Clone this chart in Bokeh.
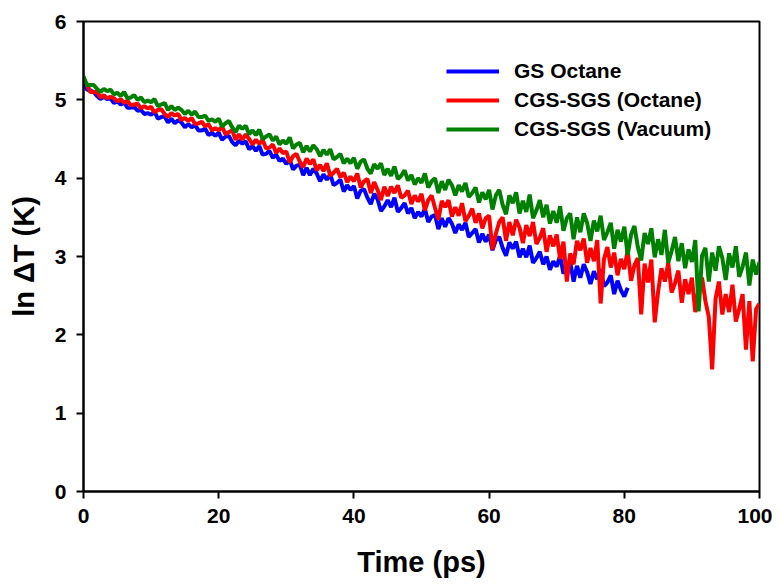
from bokeh.plotting import figure
from bokeh.models import Range1d, FixedTicker, Legend, LegendItem, ColumnDataSource
from bokeh.embed import file_html
from bokeh.resources import INLINE

STEP = 0.5  # ps between samples

green_vacuum = [
    5.30,5.19,5.19,5.19,5.14,5.10,5.14,5.11,5.13,5.07,5.09,5.05,5.10,5.02,5.03,5.06,5.00,5.03,4.97,4.99,
    4.97,5.01,4.92,4.94,4.96,4.87,4.92,4.87,4.90,4.87,4.82,4.86,4.81,4.85,4.78,4.78,4.80,4.73,4.75,4.72,
    4.76,4.66,4.70,4.73,4.65,4.59,4.67,4.63,4.67,4.56,4.61,4.55,4.62,4.50,4.53,4.56,4.48,4.53,4.43,4.48,
    4.44,4.52,4.38,4.43,4.45,4.33,4.41,4.34,4.42,4.37,4.28,4.36,4.30,4.37,4.24,4.27,4.31,4.19,4.25,4.19,
    4.26,4.12,4.21,4.24,4.12,4.06,4.18,4.12,4.19,4.04,4.12,4.03,4.15,3.99,4.03,4.10,3.97,4.04,3.92,4.00,
    3.94,4.06,3.88,3.96,4.00,3.81,3.96,3.85,3.98,3.91,3.78,3.91,3.83,3.94,3.76,3.81,3.88,3.69,3.82,3.73,
    3.85,3.60,3.78,3.85,3.66,3.54,3.78,3.68,3.82,3.55,3.71,3.57,3.79,3.49,3.59,3.72,3.50,3.66,3.42,3.58,
    3.43,3.64,3.33,3.49,3.55,3.22,3.50,3.31,3.55,3.43,3.20,3.46,3.32,3.52,3.21,3.31,3.43,3.10,3.34,3.19,
    3.38,3.02,3.28,3.39,3.12,2.95,3.30,3.16,3.36,2.99,3.22,3.02,3.34,2.92,3.07,3.25,2.94,3.17,2.85,3.09,
    2.93,3.21,2.30,3.01,3.11,2.68,3.05,2.82,3.13,2.98,2.70,3.04,2.86,3.13,2.74,2.87,3.05,2.63,2.96,2.77,2.93,
]

red_octane = [
    5.25,5.20,5.10,5.10,5.10,5.03,5.06,5.02,5.04,5.02,4.98,5.01,4.96,4.99,4.93,4.94,4.95,4.89,4.92,4.89,
    4.91,4.84,4.87,4.88,4.82,4.78,4.83,4.80,4.82,4.74,4.77,4.73,4.77,4.69,4.70,4.72,4.66,4.69,4.61,4.64,
    4.61,4.66,4.56,4.59,4.61,4.49,4.56,4.49,4.56,4.50,4.43,4.49,4.44,4.49,4.38,4.39,4.43,4.32,4.38,4.32,
    4.34,4.20,4.28,4.31,4.21,4.14,4.25,4.18,4.24,4.10,4.17,4.09,4.19,4.03,4.07,4.12,4.01,4.07,3.95,4.02,
    3.96,4.06,3.88,3.96,3.99,3.81,3.95,3.85,3.72,3.89,3.77,3.89,3.81,3.91,3.75,3.78,3.84,3.67,3.78,3.70,
    3.80,3.59,3.72,3.78,3.62,3.47,3.71,3.63,3.72,3.51,3.63,3.52,3.68,3.45,3.52,3.61,3.43,3.55,3.36,3.49,
    3.52,3.09,3.29,3.44,3.50,3.20,3.44,3.27,3.47,3.37,3.17,3.40,3.26,3.44,3.16,3.24,3.36,3.06,3.27,3.13,
    3.28,2.97,3.19,2.68,3.04,2.90,3.20,3.08,3.23,2.92,3.11,2.94,3.21,2.40,2.97,3.12,2.86,3.05,2.76,2.97,
    2.84,3.08,2.69,2.89,2.98,2.26,2.91,2.67,2.96,2.16,2.55,2.85,2.68,2.92,2.54,2.66,2.82,2.41,2.71,2.52,
    2.73,2.29,2.61,2.73,2.43,2.23,1.56,2.46,2.68,2.26,2.52,2.29,2.64,2.17,2.33,2.52,1.81,2.43,1.66,2.33,2.40,
]

blue_gs_octane = [
    5.25,5.13,5.12,5.10,5.05,5.01,5.04,5.01,5.02,4.96,4.98,4.94,4.97,4.90,4.90,4.91,4.86,4.87,4.82,4.83,
    4.81,4.85,4.76,4.78,4.79,4.71,4.76,4.70,4.74,4.71,4.65,4.69,4.65,4.68,4.61,4.61,4.63,4.55,4.58,4.54,
    4.58,4.49,4.53,4.54,4.46,4.42,4.48,4.44,4.47,4.37,4.41,4.35,4.41,4.30,4.31,4.35,4.26,4.30,4.22,4.25,
    4.18,4.24,4.11,4.16,4.17,4.04,4.13,4.04,4.12,4.06,3.96,4.05,3.98,4.05,3.91,3.94,3.98,3.83,3.91,3.85,
    3.90,3.74,3.84,3.86,3.75,3.67,3.80,3.73,3.58,3.64,3.72,3.63,3.75,3.57,3.62,3.68,3.55,3.62,3.49,3.57,
    3.51,3.61,3.44,3.51,3.53,3.35,3.49,3.38,3.49,3.42,3.30,3.41,3.34,3.43,3.25,3.30,3.35,3.18,3.29,3.19,
    3.28,3.08,3.21,3.25,3.11,3.01,3.18,3.10,3.19,2.99,3.10,2.99,3.14,2.92,2.98,3.06,2.90,3.00,2.83,2.94,
    2.87,3.01,2.78,2.88,2.93,2.68,2.88,2.73,2.90,2.80,2.65,2.81,2.71,2.84,2.62,2.67,2.76,2.52,2.69,2.57,
    2.49,2.60,
]

series_names = ["GS Octane", "CGS-SGS (Octane)", "CGS-SGS (Vacuum)"]
series_values = [blue_gs_octane, red_octane, green_vacuum]
series_colors = ["#0000FF", "#FF0000", "#008000"]

x_ticks = [0, 20, 40, 60, 80, 100]
y_ticks = [0, 1, 2, 3, 4, 5, 6]

FONT = "Liberation Sans"

p = figure(width=772, height=584, output_backend="svg", toolbar_location=None,
           x_range=Range1d(0, 100), y_range=Range1d(0, 6),
           min_border_left=83, min_border_right=13, min_border_top=21, min_border_bottom=93)

p.xgrid.visible = False
p.ygrid.visible = False
p.outline_line_color = "black"
p.outline_line_width = 2
p.background_fill_color = "white"
p.border_fill_color = "white"

renderers = []
for name, vals, col in zip(series_names, series_values, series_colors):
    t = [i * STEP for i in range(len(vals))]
    src = ColumnDataSource(dict(t=t, v=vals))
    r = p.line("t", "v", source=src, line_color=col, line_width=4)
    renderers.append((name, r))

for ax in (p.xaxis[0], p.yaxis[0]):
    ax.axis_line_width = 2
    ax.axis_line_color = "black"
    ax.major_tick_line_width = 2
    ax.major_tick_out = 7
    ax.major_tick_in = 0
    ax.minor_tick_line_color = None
    ax.major_label_text_font = FONT
    ax.major_label_text_font_style = "bold"
    ax.major_label_text_font_size = "21px"
    ax.major_label_text_color = "black"
    ax.axis_label_text_font = FONT
    ax.axis_label_text_font_style = "bold"
    ax.axis_label_text_font_size = "29px"
    ax.axis_label_text_color = "black"

p.xaxis[0].ticker = FixedTicker(ticks=x_ticks)
p.yaxis[0].ticker = FixedTicker(ticks=y_ticks)
p.xaxis[0].axis_label = "Time (ps)"
p.yaxis[0].axis_label = "ln \u0394T (K)"
p.xaxis[0].major_label_standoff = 10
p.xaxis[0].axis_label_standoff = 20
p.yaxis[0].major_label_standoff = 10
p.yaxis[0].axis_label_standoff = 12

legend = Legend(items=[LegendItem(label=n, renderers=[r]) for n, r in renderers],
                location=(363, 350), margin=0, padding=0,
                border_line_alpha=0, background_fill_alpha=0,
                glyph_width=53, glyph_height=20, label_height=20, spacing=5,
                label_standoff=15,
                label_text_font=FONT, label_text_font_style="bold",
                label_text_font_size="21px", label_text_color="black")
p.add_layout(legend, "center")

open("out.html", "w").write(file_html(p, INLINE))
